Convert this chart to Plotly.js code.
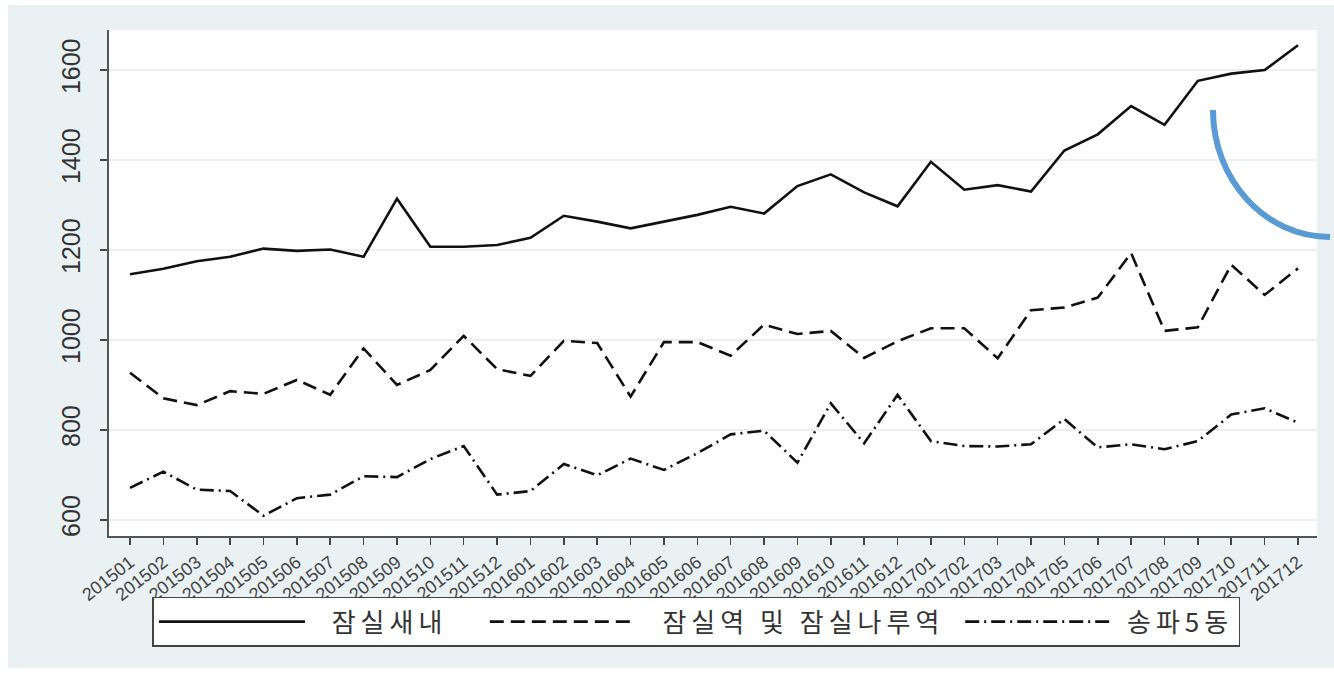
<!DOCTYPE html>
<html>
<head>
<meta charset="utf-8">
<script src="https://cdn.plot.ly/plotly-3.0.1.min.js"></script>
<style>
  html, body { margin: 0; padding: 0; background: #ffffff; }
  #chart { position: absolute; left: 8px; top: 5px; width: 1326px; height: 663px; }
  .legendtext { letter-spacing: 5px; }
</style>
</head>
<body>
<div id="chart"></div>
<script>
const months = ["201501","201502","201503","201504","201505","201506","201507","201508","201509","201510","201511","201512",
                "201601","201602","201603","201604","201605","201606","201607","201608","201609","201610","201611","201612",
                "201701","201702","201703","201704","201705","201706","201707","201708","201709","201710","201711","201712"];

const jamsilSaenae = [1146,1158,1175,1185,1203,1198,1201,1185,1314,1207,1207,1211,
                      1227,1276,1263,1248,1263,1278,1296,1281,1342,1368,1328,1297,
                      1396,1334,1344,1330,1421,1457,1520,1478,1576,1592,1600,1655];

const jamsilStation = [927,870,855,886,880,911,878,981,900,933,1009,935,
                       920,998,993,874,995,995,965,1034,1013,1020,960,997,
                       1026,1026,959,1066,1072,1094,1193,1020,1028,1167,1100,1159];

const songpa5 = [671,707,667,664,609,648,656,697,695,735,764,656,
                 664,724,699,736,711,748,790,798,727,859,770,878,
                 775,764,763,768,824,761,768,757,775,834,848,816];

const seriesNames = ["잠실새내", "잠실역 및 잠실나루역", "송파5동"];
const yTicks = [600, 800, 1000, 1200, 1400, 1600];

const NB = "\u00a0";
const legendLabel = (s, lead, trail) => NB.repeat(lead) + s + NB.repeat(trail);

const lineW = 2.6;
const traces = [
  { x: months, y: jamsilSaenae, name: legendLabel(seriesNames[0], 2, 3), type: "scatter", mode: "lines",
    line: { color: "#111111", width: lineW } },
  { x: months, y: jamsilStation, name: legendLabel(seriesNames[1], 2, 1), type: "scatter", mode: "lines",
    line: { color: "#111111", width: lineW, dash: "14px,7px" } },
  { x: months, y: songpa5, name: legendLabel(seriesNames[2], 1, 0), type: "scatter", mode: "lines",
    line: { color: "#111111", width: lineW, dash: "14px,5px,2px,5px" } }
];

// blue hand-drawn arc (annotation mark), in paper coordinates
const arcPath = "M0.9139,0.8419 C0.9139,0.7034 0.9573,0.5909 1.0108,0.5909";

const layout = {
  width: 1326, height: 663,
  paper_bgcolor: "#e9f1f3",
  plot_bgcolor: "#ffffff",
  margin: { l: 101, r: 17, t: 25, b: 132 },
  font: { family: "Liberation Sans, Arial, sans-serif", color: "#333333" },
  showlegend: true,
  legend: {
    orientation: "h",
    x: 0.036, y: -0.12, xanchor: "left", yanchor: "top",
    bgcolor: "#ffffff", bordercolor: "#444444", borderwidth: 1.5,
    font: { family: "Noto Sans CJK KR, sans-serif", size: 26, color: "#333333" },
    itemwidth: 146
  },
  xaxis: {
    type: "category",
    range: [-0.63, 35.57],
    tickangle: -38,
    tickfont: { size: 18, color: "#444444" },
    ticks: "outside", ticklen: 7, tickwidth: 1.5, tickcolor: "#444444",
    showline: true, linecolor: "#555555", linewidth: 2,
    showgrid: false, zeroline: false,
    fixedrange: true
  },
  yaxis: {
    range: [564, 1689],
    tickvals: yTicks,
    ticktext: yTicks.map(String),
    tickangle: -90,
    tickfont: { size: 25, color: "#333333" },
    ticklabelstandoff: 10,
    ticks: "outside", ticklen: 7, tickwidth: 1.5, tickcolor: "#444444",
    showline: true, linecolor: "#555555", linewidth: 2,
    showgrid: true, gridcolor: "#eeeeee", gridwidth: 2,
    zeroline: false,
    fixedrange: true
  },
  shapes: [
    { type: "path", xref: "paper", yref: "paper", path: arcPath,
      line: { color: "#5b9bd5", width: 6 }, layer: "above" }
  ]
};

Plotly.newPlot("chart", traces, layout, { displayModeBar: false, staticPlot: true });
</script>
</body>
</html>
